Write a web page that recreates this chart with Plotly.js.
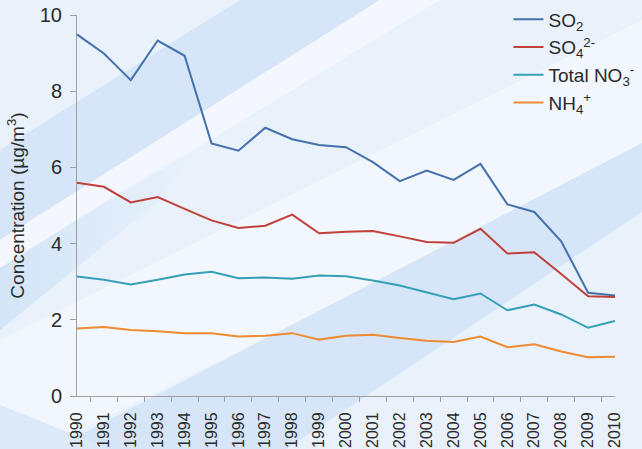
<!DOCTYPE html>
<html>
<head>
<meta charset="utf-8">
<script src="https://cdn.plot.ly/plotly-3.0.1.min.js"></script>
<style>
  html, body { margin: 0; padding: 0; width: 642px; height: 449px; overflow: hidden; background: #eaf2fc; }
  #wrap { position: relative; width: 642px; height: 449px; }
  #bg { position: absolute; left: 0; top: 0; z-index: 0; }
  #chart { position: absolute; left: 0; top: 0; width: 642px; height: 449px; z-index: 1; }
</style>
</head>
<body>
<div id="wrap">
  <svg id="bg" width="642" height="449" xmlns="http://www.w3.org/2000/svg">
    <defs>
      <linearGradient id="fadeR" x1="0" y1="0" x2="1" y2="0">
        <stop offset="0" stop-color="#d3e5f8" stop-opacity="1"/>
        <stop offset="1" stop-color="#d3e5f8" stop-opacity="0"/>
      </linearGradient>
    </defs>
    <rect x="0" y="0" width="642" height="449" fill="#e9f1fb"/>
    <polygon points="0,340 642,20 642,150 0,470" fill="#f2f7fd"/>
    <polygon points="0,150 240,0 380,0 0,240" fill="#d6e6f8"/>
    <polygon points="0,240 380,0 440,0 0,268" fill="#f4f8fe"/>
    <polygon points="0,268 200,142 160,200 0,330" fill="url(#fadeR)"/>
    <polygon points="20,466 642,143 642,212 270,460" fill="#d6e6f8"/>
    <polygon points="0,405 110,449 0,449" fill="#dbe9f9"/>
  </svg>
  <div id="chart"></div>
</div>
<script>
const years = ["1990","1991","1992","1993","1994","1995","1996","1997","1998","1999","2000",
               "2001","2002","2003","2004","2005","2006","2007","2008","2009","2010"];
const so2  = [9.49, 8.99, 8.29, 9.33, 8.93, 6.63, 6.44, 7.04, 6.74, 6.59, 6.53,
              6.14, 5.64, 5.92, 5.67, 6.09, 5.03, 4.83, 4.06, 2.71, 2.64];
const so4  = [5.60, 5.49, 5.08, 5.22, 4.91, 4.61, 4.41, 4.47, 4.76, 4.27, 4.31,
              4.33, 4.19, 4.04, 4.02, 4.39, 3.74, 3.77, 3.20, 2.62, 2.60];
const no3  = [3.14, 3.05, 2.93, 3.05, 3.19, 3.26, 3.09, 3.11, 3.08, 3.16, 3.14,
              3.03, 2.90, 2.73, 2.54, 2.69, 2.25, 2.40, 2.14, 1.79, 1.97];
const nh4  = [1.77, 1.81, 1.73, 1.70, 1.65, 1.65, 1.56, 1.58, 1.65, 1.48, 1.58,
              1.61, 1.52, 1.45, 1.42, 1.56, 1.28, 1.36, 1.17, 1.02, 1.03];
const seriesNames = ["SO<sub>2</sub>", "SO<sub>4</sub><sup>2-</sup>", "Total NO<sub>3</sub><sup>-</sup>", "NH<sub>4</sub><sup>+</sup>"];
const yTicks = [0, 2, 4, 6, 8, 10];

const colors = ["#4571ad", "#c0403a", "#35a0b6", "#ee8a30"];
const data = [so2, so4, no3, nh4].map((vals, i) => ({
  type: "scatter", mode: "lines", x: years, y: vals, name: seriesNames[i],
  line: { color: colors[i], width: 2 }, hoverinfo: "skip"
}));

const layout = {
  width: 642, height: 449,
  margin: { l: 77, r: 27, t: 15, b: 53, autoexpand: false },
  paper_bgcolor: "rgba(0,0,0,0)", plot_bgcolor: "rgba(0,0,0,0)",
  font: { family: "Liberation Sans, Arial, sans-serif", color: "#2a2a2a" },
  showlegend: true,
  legend: {
    x: 0.802, y: 1.038, xanchor: "left", yanchor: "top",
    bgcolor: "rgba(0,0,0,0)", font: { size: 19, color: "#2a2a2a" },
    tracegroupgap: 0
  },
  xaxis: {
    type: "category", tickangle: -90, tickson: "boundaries",
    ticks: "outside", ticklen: 5, tickcolor: "#a0a0a0", ticklabelstandoff: 9,
    showline: true, linecolor: "#a0a0a0", linewidth: 1,
    showgrid: false, zeroline: false,
    tickfont: { size: 16, color: "#2a2a2a" }
  },
  yaxis: {
    range: [0, 10], tickvals: yTicks, ticks: "outside", ticklen: 6, tickcolor: "#a0a0a0",
    ticklabelstandoff: 4,
    showline: true, linecolor: "#a0a0a0", linewidth: 1,
    showgrid: false, zeroline: false,
    tickfont: { size: 20, color: "#2a2a2a" },
    title: { text: "Concentration (µg/m<sup>3</sup>)", font: { size: 19, color: "#2a2a2a" }, standoff: 10 }
  }
};

Plotly.newPlot("chart", data, layout, { displayModeBar: false, staticPlot: true });
</script>
</body>
</html>
